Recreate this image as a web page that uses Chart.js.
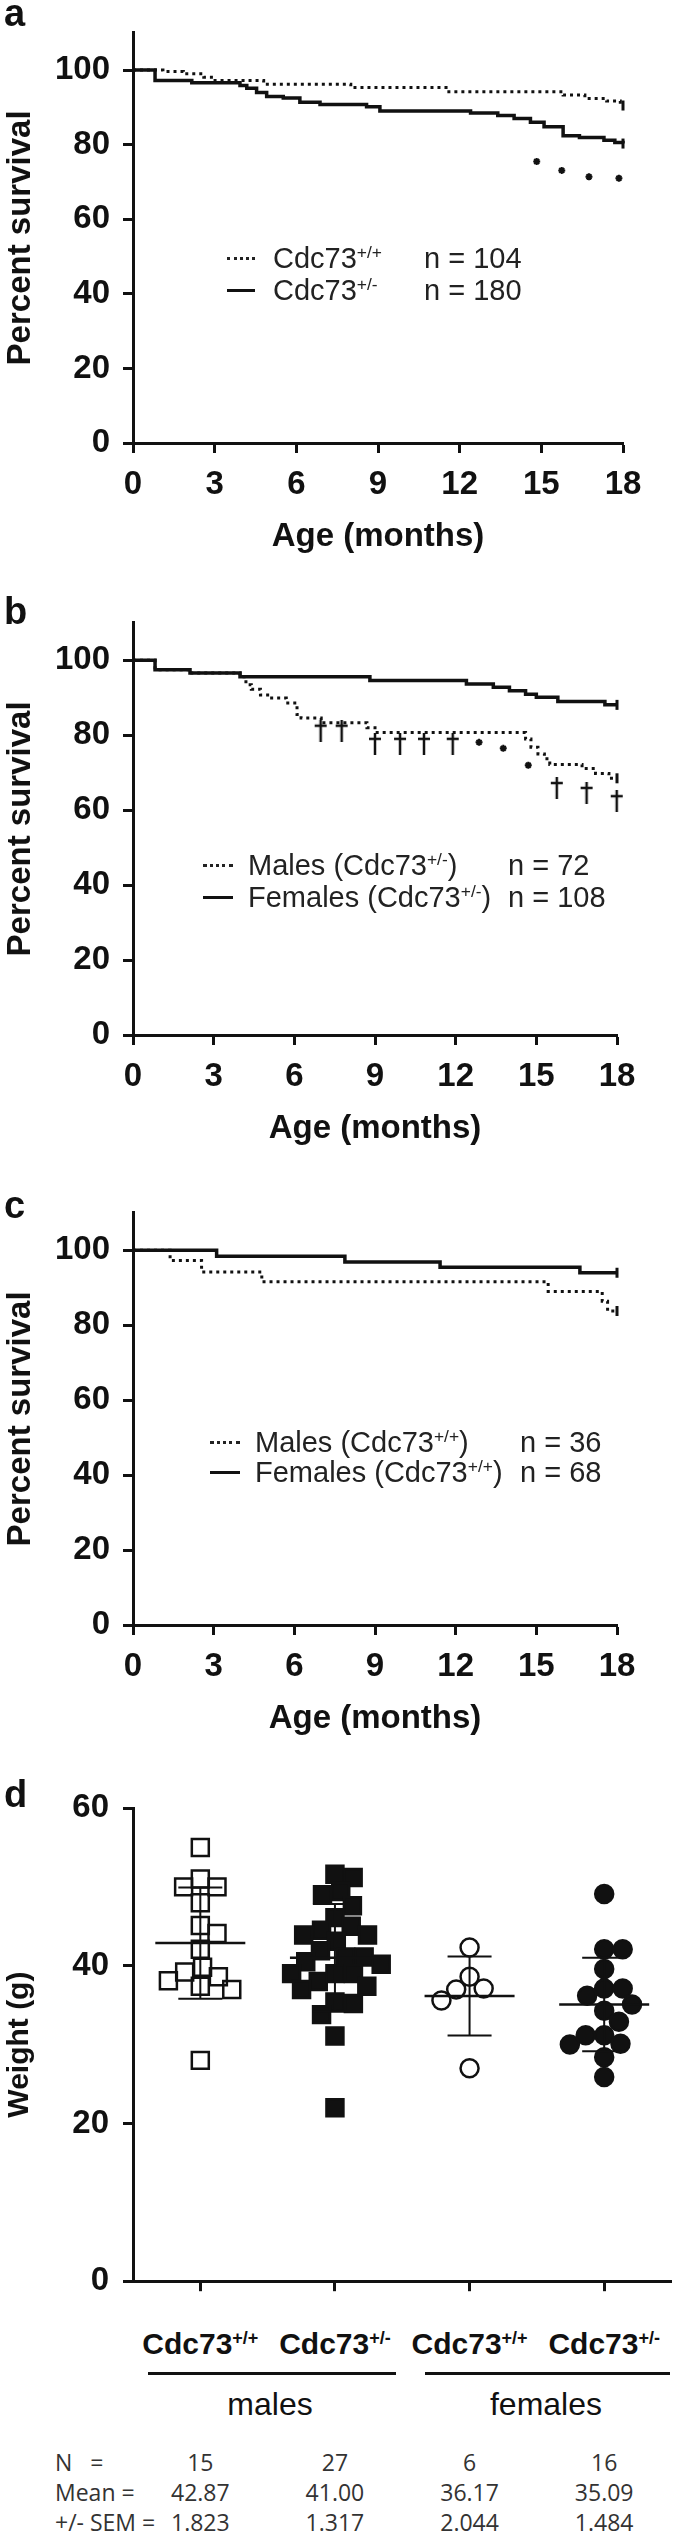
<!DOCTYPE html>
<html>
<head>
<meta charset="utf-8">
<script src="https://cdn.jsdelivr.net/npm/chart.js@4.4.1/dist/chart.umd.min.js"></script>
<style>
  body { margin: 0; background: #fff; }
  #fig { position: relative; width: 686px; height: 2533px; overflow: hidden;
         font-family: "Liberation Sans", Arial, Helvetica, sans-serif; color: #111; }
  canvas { position: absolute; left: 0; }
  .panel { position: absolute; font-weight: bold; font-size: 38px; line-height: 1; }
  .leg { position: absolute; font-size: 29px; line-height: 32px; white-space: nowrap; color: #222; }
  .leg sup, .cat sup { font-size: 0.6em; vertical-align: 0.55em; line-height: 0; }
  .sample { position: absolute; height: 0; }
  .dotted { border-top: 3px dotted #222; }
  .solid { border-top: 3px solid #111; }
  .cat { position: absolute; font-weight: bold; font-size: 30px; line-height: 32px; white-space: nowrap; transform: translateX(-50%); }
  .grp { position: absolute; font-size: 32px; line-height: 36px; transform: translateX(-50%); }
  .bar { position: absolute; height: 3px; background: #111; }
  .stat { position: absolute; font-family: "Open Sans", sans-serif; font-size: 23px; line-height: 28px; color: #333; white-space: pre; }
  .num { transform: translateX(-50%); }
</style>
</head>
<body>
<div id="fig">
  <canvas id="chartA" width="686" height="590" style="top:0px"></canvas>
  <canvas id="chartB" width="686" height="590" style="top:590px"></canvas>
  <canvas id="chartC" width="686" height="590" style="top:1180px"></canvas>
  <canvas id="chartD" width="686" height="545" style="top:1770px"></canvas>

  <div class="panel" style="left:4px; top:-6px">a</div>
  <div class="panel" style="left:4px; top:592px">b</div>
  <div class="panel" style="left:4px; top:1186px">c</div>
  <div class="panel" style="left:4px; top:1775px">d</div>

  <!-- legend a -->
  <span class="sample dotted" style="left:227px; top:257px; width:28px"></span>
  <div class="leg" style="left:273px; top:242px">Cdc73<sup>+/+</sup></div>
  <div class="leg" style="left:424px; top:242px">n = 104</div>
  <span class="sample solid" style="left:227px; top:289px; width:28px"></span>
  <div class="leg" style="left:273px; top:274px">Cdc73<sup>+/-</sup></div>
  <div class="leg" style="left:424px; top:274px">n = 180</div>

  <!-- legend b -->
  <span class="sample dotted" style="left:203px; top:864px; width:30px"></span>
  <div class="leg" style="left:248px; top:849px">Males (Cdc73<sup>+/-</sup>)</div>
  <div class="leg" style="left:508px; top:849px">n = 72</div>
  <span class="sample solid" style="left:203px; top:896px; width:30px"></span>
  <div class="leg" style="left:248px; top:881px">Females (Cdc73<sup>+/-</sup>)</div>
  <div class="leg" style="left:508px; top:881px">n = 108</div>

  <!-- legend c -->
  <span class="sample dotted" style="left:210px; top:1441px; width:30px"></span>
  <div class="leg" style="left:255px; top:1426px">Males (Cdc73<sup>+/+</sup>)</div>
  <div class="leg" style="left:520px; top:1426px">n = 36</div>
  <span class="sample solid" style="left:210px; top:1471px; width:30px"></span>
  <div class="leg" style="left:255px; top:1456px">Females (Cdc73<sup>+/+</sup>)</div>
  <div class="leg" style="left:520px; top:1456px">n = 68</div>

  <div id="below"></div>
</div>

<script>
// ---- Panel a: all mice by genotype ----
const aWtMonths  = [0, 1.1, 1.85, 2.6, 2.95, 4.8, 8.0, 11.5, 15.8, 16.6, 17.4, 17.9, 18];
const aWtSurv    = [100, 99.6, 99.0, 98.1, 97.2, 96.2, 95.3, 94.2, 93.3, 92.4, 91.7, 90.5, 90.5];
const aHetMonths = [0, 0.81, 2.16, 3.93, 4.18, 4.54, 4.91, 5.52, 6.13, 6.87, 8.58, 9.07, 12.4, 13.4, 14.0, 14.6, 15.1, 15.8, 16.4, 17.3, 17.7, 18];
const aHetSurv   = [100, 97.2, 96.6, 95.9, 95.1, 94.0, 92.9, 92.5, 91.4, 90.8, 90.2, 89.0, 88.5, 87.8, 87.0, 86.0, 84.8, 82.4, 81.9, 81.2, 80.6, 80.3];
const aStarMonths = [14.83, 15.75, 16.75, 17.85];
const aStarSurv   = [75.5, 73.1, 71.4, 71.0];

// ---- Panel b: Cdc73+/- by sex ----
const bMaleMonths = [0, 0.82, 2.12, 3.98, 4.2, 4.4, 4.74, 5.1, 5.7, 6.1, 6.25, 7.0, 8.7, 9.0, 14.6, 14.8, 15.06, 15.3, 15.5, 16.7, 17.2, 17.7, 18];
const bMaleSurv   = [100, 97.5, 96.6, 95.6, 93.5, 92.3, 90.7, 89.9, 88.6, 85.5, 84.6, 83.3, 82.0, 80.7, 79.0, 76.8, 75.0, 73.7, 72.2, 71.1, 69.8, 68.5, 68.5];
const bFemMonths  = [0, 0.82, 2.12, 3.98, 8.81, 12.4, 13.4, 14.0, 14.6, 15.0, 15.8, 17.55, 18];
const bFemSurv    = [100, 97.5, 96.6, 95.6, 94.6, 93.7, 92.8, 91.9, 90.9, 90.1, 89.0, 88.1, 88.1];
const bDaggerMonths = [6.98, 7.76, 9.0, 9.93, 10.82, 11.89, 15.76, 16.87, 17.99];
const bDaggerSurv   = [81.2, 81.2, 77.7, 77.7, 77.7, 77.7, 65.9, 64.6, 62.4];
const bStarMonths = [12.87, 13.77, 14.7];
const bStarSurv   = [78.1, 76.5, 72.0];

// ---- Panel c: Cdc73+/+ by sex ----
const cMaleMonths = [0, 1.38, 2.55, 4.79, 15.44, 17.45, 17.65, 18];
const cMaleSurv   = [100, 97.3, 94.2, 91.6, 89.0, 86.4, 83.8, 83.8];
const cFemMonths  = [0, 3.11, 7.88, 11.42, 16.62, 18];
const cFemSurv    = [100, 98.4, 96.9, 95.5, 94.0, 94.0];

const monthTicks = [0, 3, 6, 9, 12, 15, 18];
const survTicks  = [0, 20, 40, 60, 80, 100];

// ---- Panel d: body weight ----
const weightGroups = ['Cdc73+/+', 'Cdc73+/-', 'Cdc73+/+', 'Cdc73+/-'];
const maleWt   = [55.0, 51.0, 50.0, 50.0, 48.0, 45.1, 44.1, 42.1, 39.8, 39.2, 38.6, 38.1, 37.4, 37.0, 28.0];
const maleHet  = [51.6, 51.2, 49.4, 49.0, 47.6, 46.1, 45.0, 44.5, 43.9, 43.9, 43.1, 41.9, 41.1, 41.1, 40.5, 40.2, 39.0, 39.0, 39.0, 38.0, 37.4, 37.0, 35.4, 35.2, 33.8, 31.1, 22.0];
const femWt    = [42.3, 38.6, 37.1, 37.0, 35.6, 27.0];
const femHet   = [49.1, 42.1, 42.1, 39.6, 37.1, 37.1, 36.2, 35.1, 34.3, 32.9, 31.2, 31.2, 30.1, 30.0, 28.4, 25.9];
const groupN    = [15, 27, 6, 16];
const groupMean = [42.87, 41.00, 36.17, 35.09];
const groupSem  = [1.823, 1.317, 2.044, 1.484];
const weightTicks = [0, 20, 40, 60];

const FONT = '"Liberation Sans", Arial, Helvetica, sans-serif';
const INK = '#111';

function xy(xs, ys) {
  return xs.map((x, i) => ({ x: x, y: ys[i] }));
}

function makeDagger() {
  const c = document.createElement('canvas');
  c.width = 14; c.height = 22;
  const g = c.getContext('2d');
  g.strokeStyle = INK; g.lineWidth = 2.5;
  g.beginPath();
  g.moveTo(7, 0); g.lineTo(7, 22);
  g.moveTo(1, 6); g.lineTo(13, 6);
  g.stroke();
  return c;
}
const dagger = makeDagger();

function kmLine(data, dotted) {
  return {
    data: data,
    stepped: true,
    clip: false,
    borderColor: INK,
    borderWidth: dotted ? 3 : 3.5,
    borderDash: dotted ? [3, 4] : [],
    fill: false,
    pointStyle: 'line',
    pointRotation: 90,
    pointBorderColor: INK,
    pointBorderWidth: 3,
    pointRadius: ctx => (ctx.dataIndex === ctx.dataset.data.length - 1 ? 5 : 0)
  };
}

function marks(data, style, radius) {
  return {
    data: data,
    showLine: false,
    clip: false,
    pointStyle: style,
    pointRadius: radius,
    pointBorderWidth: 2,
    pointBorderColor: INK,
    pointBackgroundColor: INK
  };
}

// geometry of a survival panel, in page pixels
function kmChart(id, g, datasets) {
  const axisH = g.top + g.height - g.areaBottom;
  return new Chart(document.getElementById(id), {
    type: 'line',
    data: { datasets: datasets },
    options: {
      responsive: false,
      animation: false,
      devicePixelRatio: 1,
      layout: { padding: { left: 0, top: g.areaTop - g.top, right: 686 - g.right, bottom: 0 } },
      plugins: { legend: { display: false }, tooltip: { enabled: false } },
      scales: {
        x: {
          type: 'linear', min: 0, max: 18,
          afterBuildTicks: s => { s.ticks = monthTicks.map(v => ({ value: v })); },
          afterFit: s => { s.height = axisH; },
          border: { display: true, color: INK, width: 3 },
          grid: { drawOnChartArea: false, drawTicks: true, tickLength: 10, tickWidth: 3, tickColor: INK },
          ticks: { color: INK, padding: 12, maxRotation: 0, autoSkip: false, font: { family: FONT, size: 33, weight: 'bold' } },
          title: { display: true, text: 'Age (months)', color: INK, font: { family: FONT, size: 33, weight: 'bold' },
                   padding: { top: 0, bottom: axisH - 94 - 19.8 } }
        },
        y: {
          type: 'linear', min: 0, max: 110,
          afterBuildTicks: s => { s.ticks = survTicks.map(v => ({ value: v })); },
          afterFit: s => { s.width = 133; },
          border: { display: true, color: INK, width: 3 },
          grid: { drawOnChartArea: false, drawTicks: true, tickLength: 10, tickWidth: 3, tickColor: INK },
          ticks: { color: INK, padding: 13, font: { family: FONT, size: 33, weight: 'bold' } },
          title: { display: true, text: 'Percent survival', color: INK, font: { family: FONT, size: 33, weight: 'bold' },
                   padding: { top: 1, bottom: 0 } }
        }
      }
    }
  });
}

kmChart('chartA', { top: 0, height: 590, areaTop: 17, areaBottom: 443, right: 623 }, [
  kmLine(xy(aHetMonths, aHetSurv), false),
  kmLine(xy(aWtMonths, aWtSurv), true),
  marks(xy(aStarMonths, aStarSurv), 'star', 3.5)
]);

kmChart('chartB', { top: 590, height: 590, areaTop: 615, areaBottom: 1035, right: 617 }, [
  kmLine(xy(bFemMonths, bFemSurv), false),
  kmLine(xy(bMaleMonths, bMaleSurv), true),
  marks(xy(bDaggerMonths, bDaggerSurv), dagger, 8),
  marks(xy(bStarMonths, bStarSurv), 'star', 3.5)
]);

kmChart('chartC', { top: 1180, height: 590, areaTop: 1206, areaBottom: 1625, right: 617 }, [
  kmLine(xy(cFemMonths, cFemSurv), false),
  kmLine(xy(cMaleMonths, cMaleSurv), true)
]);

// ---- panel d ----
const D_TOP = 1808, D_BOTTOM = 2300, D_LEFT = 133, D_RIGHT = 686;
const pxPerGram = (D_BOTTOM - D_TOP) / 60;
const pxPerGroup = (D_RIGHT - D_LEFT) / weightGroups.length;

// simple beeswarm: spread points sideways so markers do not pile up
function swarm(values, center, size) {
  const order = values.map((v, i) => i).sort((p, q) => values[q] - values[p]);
  const placed = [];
  const out = new Array(values.length);
  order.forEach(i => {
    const y = values[i] * pxPerGram;
    const cands = [0];
    placed.forEach(p => {
      const dy = Math.abs(p.y - y);
      if (dy < size) {
        const dx = Math.sqrt(size * size - dy * dy);
        cands.push(p.x + dx, p.x - dx);
      }
    });
    cands.sort((p, q) => Math.abs(p) - Math.abs(q));
    const x = cands.find(c => placed.every(p => Math.hypot(p.x - c, p.y - y) >= size - 0.01));
    placed.push({ x: x, y: y });
    out[i] = { x: center + x / pxPerGroup, y: values[i] };
  });
  return out;
}

const meanSdPlugin = {
  id: 'meanSd',
  afterDatasetsDraw(chart) {
    const { ctx, scales: { x, y } } = chart;
    ctx.save();
    ctx.strokeStyle = INK;
    groupMean.forEach((m, i) => {
      const sd = groupSem[i] * Math.sqrt(groupN[i]);
      const cx = x.getPixelForValue(i + 1);
      const ym = y.getPixelForValue(m);
      const yt = y.getPixelForValue(m + sd);
      const yb = y.getPixelForValue(m - sd);
      ctx.lineWidth = 2.5;
      ctx.beginPath();
      ctx.moveTo(cx - 45, ym); ctx.lineTo(cx + 45, ym);
      ctx.stroke();
      ctx.lineWidth = 2;
      ctx.beginPath();
      ctx.moveTo(cx, yt); ctx.lineTo(cx, yb);
      ctx.moveTo(cx - 22, yt); ctx.lineTo(cx + 22, yt);
      ctx.moveTo(cx - 22, yb); ctx.lineTo(cx + 22, yb);
      ctx.stroke();
    });
    ctx.restore();
  }
};

function weightSet(values, idx, style, radius, filled) {
  return {
    data: swarm(values, idx, 19),
    clip: false,
    pointStyle: style,
    pointRadius: radius,
    pointBorderWidth: 2.5,
    pointBorderColor: INK,
    pointBackgroundColor: filled ? INK : 'rgba(0,0,0,0)'
  };
}

const chartD = new Chart(document.getElementById('chartD'), {
  type: 'scatter',
  data: {
    datasets: [
      weightSet(maleWt, 1, 'rect', 12, false),
      weightSet(maleHet, 2, 'rect', 12, true),
      weightSet(femWt, 3, 'circle', 9, false),
      weightSet(femHet, 4, 'circle', 9, true)
    ]
  },
  plugins: [meanSdPlugin],
  options: {
    responsive: false,
    animation: false,
    devicePixelRatio: 1,
    layout: { padding: { left: 0, top: D_TOP - 1770, right: 0, bottom: 0 } },
    plugins: { legend: { display: false }, tooltip: { enabled: false } },
    scales: {
      x: {
        type: 'linear', min: 0.5, max: weightGroups.length + 0.5,
        afterBuildTicks: s => { s.ticks = weightGroups.map((g, i) => ({ value: i + 1 })); },
        afterFit: s => { s.height = 1770 + 545 - D_BOTTOM; },
        border: { display: true, color: INK, width: 3 },
        grid: { drawOnChartArea: false, drawTicks: true, tickLength: 10, tickWidth: 3, tickColor: INK },
        ticks: { display: false }
      },
      y: {
        type: 'linear', min: 0, max: 60,
        afterBuildTicks: s => { s.ticks = weightTicks.map(v => ({ value: v })); },
        afterFit: s => { s.width = D_LEFT; },
        border: { display: true, color: INK, width: 3 },
        grid: { drawOnChartArea: false, drawTicks: true, tickLength: 10, tickWidth: 3, tickColor: INK },
        ticks: { color: INK, padding: 14, font: { family: FONT, size: 33, weight: 'bold' } },
        title: { display: true, text: 'Weight (g)', color: INK, font: { family: FONT, size: 30, weight: 'bold' },
                 padding: { top: 2, bottom: 0 } }
      }
    }
  }
});

// category labels, sex groups and summary table under panel d
const below = document.getElementById('below');
function add(cls, html, style) {
  const el = document.createElement('div');
  el.className = cls;
  el.innerHTML = html;
  Object.assign(el.style, style);
  below.appendChild(el);
  return el;
}
const xs = chartD.scales.x;
weightGroups.forEach((g, i) => {
  const px = xs.getPixelForValue(i + 1);
  const parts = g.match(/^(.*?)(\+\/[+-])$/);
  add('cat', parts[1] + '<sup>' + parts[2] + '</sup>', { left: px + 'px', top: '2328px' });
  add('stat num', String(groupN[i]), { left: px + 'px', top: '2448px' });
  add('stat num', groupMean[i].toFixed(2), { left: px + 'px', top: '2478px' });
  add('stat num', groupSem[i].toFixed(3), { left: px + 'px', top: '2508px' });
});
add('bar', '', { left: '148px', width: '248px', top: '2372px' });
add('bar', '', { left: '425px', width: '245px', top: '2372px' });
add('grp', 'males', { left: '270px', top: '2386px' });
add('grp', 'females', { left: '546px', top: '2386px' });
add('stat', 'N   =', { left: '55px', top: '2448px' });
add('stat', 'Mean =', { left: '55px', top: '2478px' });
add('stat', '+/- SEM =', { left: '55px', top: '2508px' });
</script>
</body>
</html>
